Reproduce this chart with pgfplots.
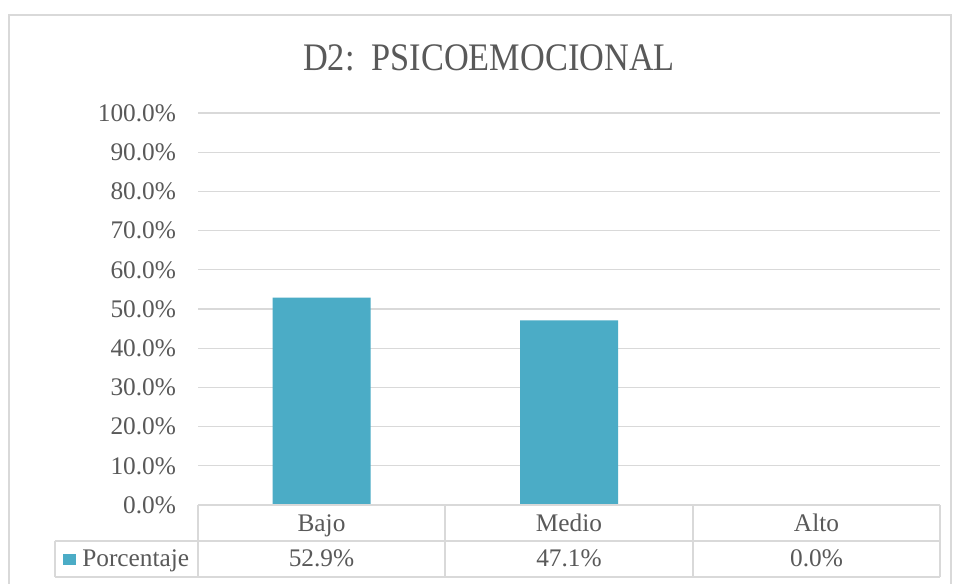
\documentclass[border=0pt]{standalone}
\usepackage{fontspec}
\setmainfont{Liberation Serif}
\newfontfamily\titlefont[FakeStretch=0.88]{Liberation Serif}
\usepackage{pgfplots}
\pgfplotsset{compat=1.18}
\definecolor{txt}{HTML}{595959}
\definecolor{grd}{HTML}{D9D9D9}
\definecolor{barc}{HTML}{4BACC6}
\begin{document}
\begin{tikzpicture}[x=0.75pt,y=0.75pt]
\useasboundingbox (0,0) rectangle (954,583);
\fill[white] (0,0) rectangle (954,583);
\draw[grd, line width=1.5pt] (9,-10) -- (9,568) -- (951,568) -- (951,-10);
\node[anchor=base, text=txt, font=\titlefont\fontsize{29.25}{32}\selectfont] at (489,512) {D2:\ \ PSICOEMOCIONAL};
\begin{axis}[at={(148.5pt,58.5pt)}, anchor=south west, scale only axis,
  width=556.5pt, height=294pt,
  xmin=0, xmax=3, ymin=0, ymax=100, ytick={0,10,...,100}, xtick=\empty,
  axis line style={draw=none}, ymajorgrids, grid style={grd, line width=0.9pt},
  major tick length=0,
  ybar, bar width=73.5pt,
  /pgf/number format/assume math mode=true,
  yticklabel={\pgfmathprintnumber[fixed,fixed zerofill,precision=1]{\tick}\%},
  yticklabel style={font=\fontsize{19}{20}\selectfont, text=txt, anchor=east, xshift=-13pt},
  clip=false]
\addplot[fill=barc, draw=none] coordinates {(0.5,52.9) (1.5,47.1) (2.5,0)};
\end{axis}
\begin{scope}[grd, line width=1.2pt]
\draw (198,78) -- (940,78);
\draw (55,42) -- (940,42);
\draw (55,6) -- (940,6);
\draw (55,6) -- (55,42);
\draw (198,6) -- (198,78);
\draw (445,6) -- (445,78);
\draw (693,6) -- (693,78);
\draw (940,6) -- (940,78);
\end{scope}
\begin{scope}[every node/.style={anchor=base, text=txt, font=\fontsize{19}{20}\selectfont, inner sep=0pt}]
\node at (321.5,52) {Bajo};
\node at (569,52) {Medio};
\node at (816.5,52) {Alto};
\node at (321.5,17) {52.9\%};
\node at (569,17) {47.1\%};
\node at (816.5,17) {0.0\%};
\node[anchor=base west] at (82,17) {Porcentaje};
\end{scope}
\fill[barc] (63,18) rectangle (76,29);
\end{tikzpicture}
\end{document}
